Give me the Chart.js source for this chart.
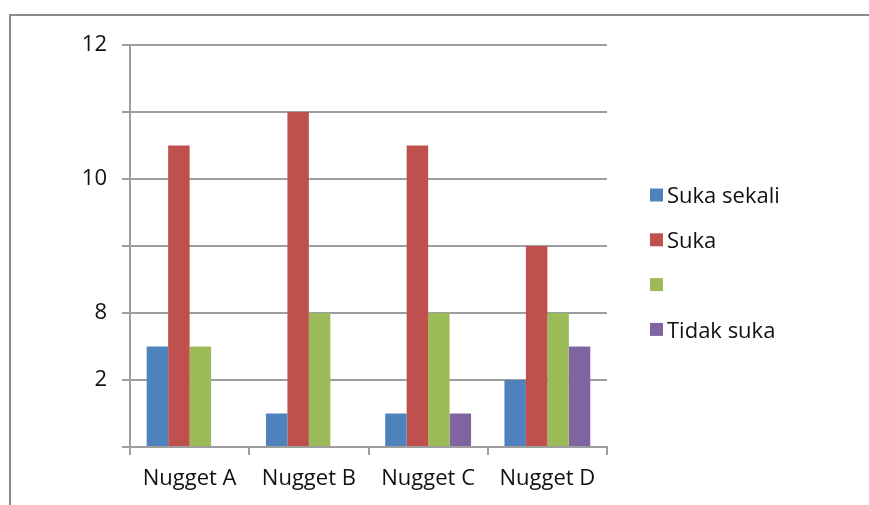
<!DOCTYPE html>
<html>
<head>
<meta charset="utf-8">
<script src="https://cdn.jsdelivr.net/npm/chart.js@4/dist/chart.umd.min.js"></script>
<style>
  body { margin: 0; background: #fff; }
  #wrap { position: relative; width: 869px; height: 505px; }
  #bingkai { position: absolute; left: 9px; top: 14px; right: 0; bottom: 0;
             border-top: 2px solid #8a8a8a; border-left: 2px solid #8a8a8a; }
  canvas { position: absolute; left: 0; top: 0; }
</style>
</head>
<body>
<div id="wrap">
  <div id="bingkai"></div>
  <canvas id="grafik" width="869" height="505"></canvas>
</div>
<script>
const kategori = ['Nugget A', 'Nugget B', 'Nugget C', 'Nugget D'];
const sukaSekali = [3, 1, 1, 2];
const suka = [9, 10, 9, 6];
const tanpaNama = [3, 4, 4, 4];
const tidakSuka = [0, 0, 1, 3];
// label sumbu Y untuk nilai 0, 2, 4, ... 12
const labelY = ['', '2', '8', '', '10', '', '12'];

const warnaGaris = '#9e9e9e';
const warnaTeks = '#111';
const huruf = "'Open Sans', 'DejaVu Sans', sans-serif";

// legenda digambar sendiri di sisi kanan
const legendaKanan = {
    id: 'legendaKanan',
    afterDraw(chart) {
        const ctx = chart.ctx;
        const x = 650, y0 = 195, jarak = 44.8, kotak = 13;
        ctx.save();
        ctx.font = '22px ' + huruf;
        ctx.textBaseline = 'middle';
        chart.data.datasets.forEach((ds, i) => {
            const y = y0 + i * jarak;
            ctx.fillStyle = ds.backgroundColor;
            ctx.fillRect(x, y - kotak / 2, kotak, kotak);
            ctx.fillStyle = warnaTeks;
            ctx.fillText(ds.label, x + 17, y + 2);
        });
        ctx.restore();
    }
};

const ctx = document.getElementById('grafik').getContext('2d');
new Chart(ctx, {
    type: 'bar',
    data: {
        labels: kategori,
        datasets: [
            { label: 'Suka sekali', data: sukaSekali, backgroundColor: '#4f81bd' },
            { label: 'Suka', data: suka, backgroundColor: '#c0504d' },
            { label: '', data: tanpaNama, backgroundColor: '#9bbb59' },
            { label: 'Tidak suka', data: tidakSuka, backgroundColor: '#8064a2' }
        ]
    },
    options: {
        responsive: false,
        animation: false,
        layout: { padding: { top: 45, right: 262, bottom: 0, left: 0 } },
        datasets: { bar: { barPercentage: 1, categoryPercentage: 0.72, borderWidth: 0 } },
        plugins: { legend: { display: false }, tooltip: { enabled: false } },
        scales: {
            x: {
                afterFit: s => { s.height = 58; },
                grid: { drawOnChartArea: false, drawTicks: true, tickLength: 8, color: warnaGaris, lineWidth: 2 },
                border: { color: warnaGaris, width: 2 },
                ticks: { color: warnaTeks, font: { family: huruf, size: 22 }, padding: 11, maxRotation: 0 }
            },
            y: {
                min: 0,
                max: 12,
                afterFit: s => { s.width = 130; },
                grid: { color: warnaGaris, lineWidth: 2, tickLength: 8 },
                border: { color: warnaGaris, width: 2 },
                ticks: {
                    stepSize: 2,
                    padding: 15,
                    color: warnaTeks,
                    font: { family: huruf, size: 22 },
                    callback: v => labelY[v / 2]
                }
            }
        }
    },
    plugins: [legendaKanan]
});
</script>
</body>
</html>
